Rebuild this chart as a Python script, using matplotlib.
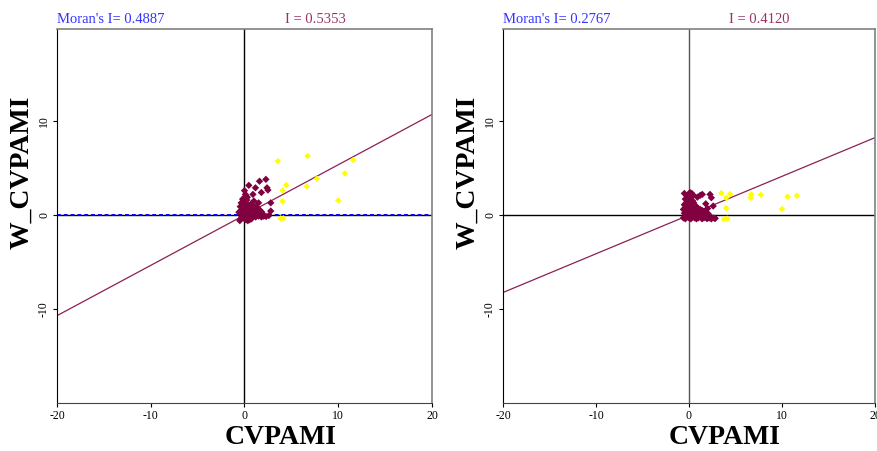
import matplotlib
matplotlib.use("Agg")
import matplotlib.pyplot as plt
import numpy as np

# ---------------- data ----------------
left_moran = 0.4887
left_I = 0.5353
right_moran = 0.2767
right_I = 0.4120

left_maroon_x = [-0.4, -0.3, -0.2, -0.1, 0.0, 0.1, 0.2, 0.3, 0.4, 0.5, 0.6, 0.7, 0.8, 0.9, 1.0, 1.1, 1.2, 1.3, 1.4, 1.5,
                 1.6, 1.7, 1.8, 1.9, 2.0, -0.3, -0.2, -0.1, 0.0, 0.1, 0.2, 0.3, 0.4, 0.5, 0.6, 0.7, 0.8, 0.9, 1.0, 1.1,
                 1.2, -0.4, -0.45, -0.35, 0.05, 0.25, -0.5, -0.6, 0.15, 0.35, 0.55, 0.75, 1.25, 1.45, 1.65, 1.85,
                 0.46, 1.6, 2.28, 1.17, 1.8, 2.4, 2.5, 0.9, 0.1, 0.0, 1.5, 2.8, 2.8, 2.06, 1.0, 0.64, 2.3, 2.6, 0.3, 0.0, -0.2]
left_maroon_y = [-0.4, -0.2, 0.1, -0.3, 0.0, 0.2, -0.1, 0.3, 0.0, -0.2, 0.1, 0.4, -0.1, 0.2, 0.0, 0.3, -0.2, 0.1, 0.4, -0.1,
                 0.2, 0.0, -0.2, 0.1, -0.1, 0.5, 0.8, 1.1, 0.6, 0.9, 1.2, 0.7, 1.0, 0.6, 0.9, 0.7, 1.0, 0.6, 0.8, 0.6,
                 0.9, 0.2, 0.9, 1.3, 1.5, 1.6, -0.6, 0.3, -0.5, -0.6, -0.5, -0.4, 0.5, 0.7, 0.5, 0.3,
                 3.16, 3.6, 3.8, 2.9, 2.4, 2.9, 2.66, 2.2, 2.2, 1.85, 1.3, 1.3, 0.43, -0.1, 1.5, 1.13, -0.15, -0.05, 1.9, 2.6, 1.7]
left_yellow_x = [3.56, 6.73, 11.6, 10.7, 7.72, 6.62, 4.45, 4.06, 4.06, 10.0, 3.84, 4.13]
left_yellow_y = [5.74, 6.28, 5.85, 4.43, 3.87, 3.05, 3.19, 2.62, 1.45, 1.56, -0.35, -0.35]

right_maroon_x = [-0.6, -0.4, -0.2, 0.0, 0.2, 0.4, 0.6, 0.8, 1.0, 1.2, 1.4, 1.6, 1.8, 2.0, 2.2, 2.4, 2.6, 2.8,
                  -0.5, -0.3, -0.1, 0.1, 0.3, 0.5, 0.7, 0.9, 1.1, 1.3, 1.5, 1.7, 1.9, 2.1,
                  -0.6, -0.4, -0.2, 0.0, 0.2, 0.4, 0.6, 0.8, 1.0, 1.2, 1.4,
                  -0.5, -0.3, -0.1, 0.1, 0.3, 0.5, 0.7, -0.4, 0.0, 0.2, 0.4,
                  -0.5, 0.47, 1.43, 2.26, 2.4, 2.6, 2.8, 1.9, 0.9, 1.2, 1.8, 0.1, -0.2, 0.3, 2.0, 1.6]
right_maroon_y = [-0.3, -0.4, -0.2, -0.3, -0.4, -0.2, -0.3, -0.4, -0.3, -0.2, -0.4, -0.3, -0.2, -0.35, -0.3, -0.4, -0.3, -0.35,
                  0.2, 0.0, 0.3, 0.1, 0.2, 0.0, 0.1, 0.3, 0.0, 0.2, 0.1, 0.0, 0.2, 0.1,
                  0.6, 0.8, 0.5, 0.7, 0.9, 0.6, 0.8, 0.5, 0.7, 0.6, 0.5,
                  1.1, 1.3, 1.2, 1.4, 1.1, 1.3, 1.0, 1.7, 1.8, 1.6, 1.5,
                  2.3, 2.1, 2.2, 2.2, 1.84, 0.96, -0.35, -0.35, 1.9, 2.1, 1.2, 2.4, 2.0, 2.3, 0.7, 0.4]
right_yellow_x = [3.48, 4.41, 4.01, 6.70, 6.63, 7.74, 10.6, 11.6, 10.0, 4.0, 3.76, 4.12]
right_yellow_y = [2.34, 2.23, 1.84, 2.2, 1.84, 2.16, 1.95, 2.06, 0.64, 0.74, -0.43, -0.39]

x_ticks = [-20, -10, 0, 10, 20]
y_ticks = [-10, 0, 10]
x_limits = (-20, 20)
y_limits = (-20, 19.8)

# ---------------- style ----------------
W, H = 878, 451
plt.rcParams['font.family'] = ['Liberation Serif', 'DejaVu Serif']
plt.rcParams['axes.unicode_minus'] = False
fig = plt.figure(figsize=(W / 100, H / 100), dpi=100)

MAROON = '#800040'
LINE = '#8c1f55'
BLUE = '#3333ff'
TITLE_I = '#993366'


def fx(px):
    return px / W


def fy(py):
    return 1 - py / H


panels = [
    dict(left=57, right=432, mx=left_maroon_x, my=left_maroon_y, yx=left_yellow_x, yy=left_yellow_y,
         moran=left_moran, slope=left_I, dashed=True, ititle_x=285, label_cx=281, vcolor='black'),
    dict(left=503, right=875, mx=right_maroon_x, my=right_maroon_y, yx=right_yellow_x, yy=right_yellow_y,
         moran=right_moran, slope=right_I, dashed=False, ititle_x=729, label_cx=725, vcolor='#555555'),
]

top_px, bottom_px = 29, 403
for p in panels:
    ax = fig.add_axes([fx(p['left']), fy(bottom_px), fx(p['right'] - p['left']), (bottom_px - top_px) / H])
    ax.set_xlim(*x_limits)
    ax.set_ylim(*y_limits)
    ax.set_xticks(x_ticks)
    ax.set_yticks(y_ticks)
    ax.tick_params(axis='both', labelsize=8.5, length=3, width=0.8, direction='out', pad=2)
    for lab in ax.get_yticklabels():
        lab.set_rotation(90)
        lab.set_va('center')
    ax.spines['top'].set_color('#808080')
    ax.spines['right'].set_color('#808080')
    ax.spines['top'].set_linewidth(1.2)
    ax.spines['right'].set_linewidth(1.2)
    ax.spines['left'].set_linewidth(0.8)
    ax.spines['bottom'].set_linewidth(0.8)
    ax.spines['bottom'].set_color('#444444')

    ax.axvline(0, color=p['vcolor'], lw=1.0, zorder=1)
    ax.axhline(0, color='black', lw=1.0, zorder=1)
    if p['dashed']:
        ax.axhline(0, color='#0000ff', lw=1.4, dashes=(2, 1.5), zorder=1.5)

    xs = np.array(x_limits, dtype=float)
    ax.plot(xs, p['slope'] * xs, color=LINE, lw=0.9, zorder=2)

    ax.scatter(p['mx'], p['my'], marker='D', s=14, color=MAROON, edgecolors='none', zorder=3)
    ax.scatter(p['yx'], p['yy'], marker='D', s=11, color='#ffff00', edgecolors='none', zorder=3)

    fig.text(fx(p['left']), fy(23), "Moran's I= %.4f" % p['moran'], color=BLUE, fontsize=10.5,
             ha='left', va='baseline')
    fig.text(fx(p['ititle_x']), fy(23), "I = %.4f" % p['slope'], color=TITLE_I, fontsize=10.5,
             ha='left', va='baseline')

    fig.text(fx(p['label_cx']), fy(437.5), 'CVPAMI', fontsize=20, fontweight='bold',
             ha='center', va='center')
    fig.text(fx(p['left'] - 35), fy(172), 'W_CVPAMI', fontsize=20, fontweight='bold',
             rotation=90, ha='center', va='center')

fig.savefig('out.png', dpi=100)
